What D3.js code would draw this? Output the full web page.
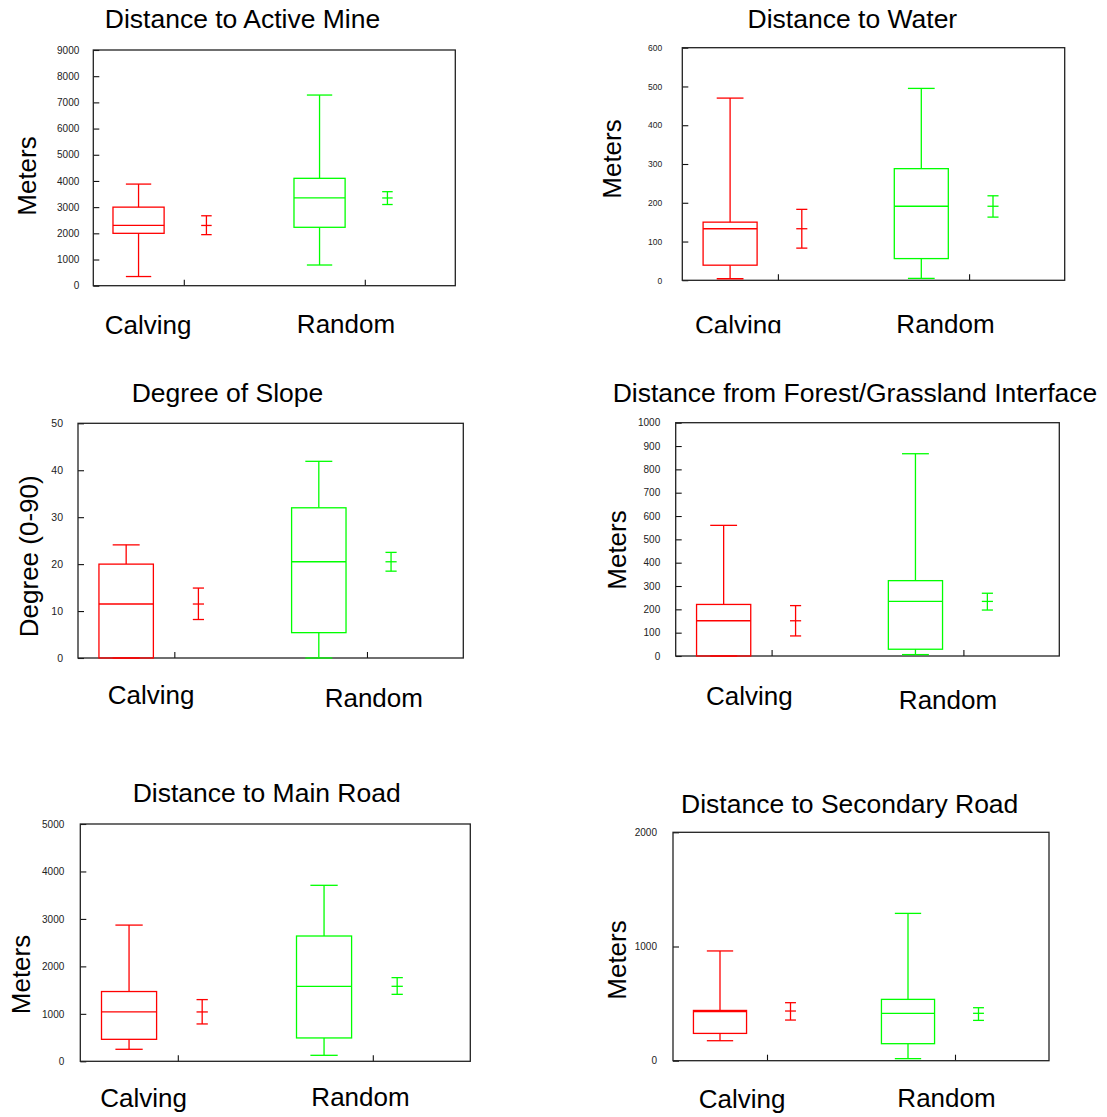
<!DOCTYPE html>
<html><head><meta charset="utf-8">
<script src="https://cdn.jsdelivr.net/npm/d3@7"></script>
<style>body{margin:0;background:#fff}svg{display:block}</style>
</head><body>
<svg id="c" width="1107" height="1117"></svg>
<script>
// ---------- DATA ----------
const panelTitles = ["Distance to Active Mine", "Distance to Water", "Degree of Slope",
  "Distance from Forest/Grassland Interface", "Distance to Main Road", "Distance to Secondary Road"];
const yAxisLabels = ["Meters", "Meters", "Degree (0-90)", "Meters", "Meters", "Meters"];
const categories = ["Calving", "Random"];
const yMax = [9000, 600, 50, 1000, 5000, 2000];
const yTickStep = [1000, 100, 10, 100, 1000, 1000];
// box plots: [lower whisker, Q1, median, Q3, upper whisker]
const calvingBox = [
  [350, 2000, 2300, 3000, 3880],
  [4, 39, 133, 150, 470],
  [0, 0, 11.5, 20.0, 24.1],
  [0, 0, 151, 221, 560],
  [253, 463, 1040, 1470, 2870],
  [175, 239, 430, 440, 961]
];
const randomBox = [
  [790, 2230, 3350, 4100, 7280],
  [5, 56, 191, 288, 495],
  [0, 5.4, 20.5, 32.0, 41.9],
  [6, 29, 234, 323, 867],
  [126, 492, 1580, 2640, 3708],
  [18, 149, 415, 537, 1290]
];
// mean with error bar: [lower, mean, upper]
const calvingMean = [
  [1950, 2300, 2670],
  [83, 133, 183],
  [8.2, 11.5, 14.9],
  [86, 151, 216],
  [787, 1040, 1300],
  [356, 435, 508]
];
const randomMean = [
  [3100, 3350, 3590],
  [163, 191, 218],
  [18.5, 20.5, 22.5],
  [197, 234, 269],
  [1411, 1580, 1763],
  [353, 415, 464]
];

// ---------- LAYOUT ----------
const layout = [
  {x0: 93.3, x1: 455.3, y0: 50, y1: 285.7, title: [242.5, 28.3], ylab: [36, 176], xlab: [[148, 334], [346, 332.5]], tickFs: 10, tickGap: 14, clip: null},
  {x0: 682.3, x1: 1064.7, y0: 47.7, y1: 280.3, title: [852.4, 28.3], ylab: [620.7, 159], xlab: [[738.3, 333.6], [945.5, 332.6]], tickFs: 8.5, tickGap: 20, clip: 333.3},
  {x0: 78, x1: 463.3, y0: 423.3, y1: 658, title: [227.5, 402.3], ylab: [37.8, 556.3], xlab: [[151.2, 704], [373.8, 706.7]], tickFs: 10.5, tickGap: 15, clip: null},
  {x0: 675.7, x1: 1059.3, y0: 422.7, y1: 656, title: [855, 402.3], ylab: [626, 550], xlab: [[749.3, 705.3], [948, 708.6]], tickFs: 10, tickGap: 15.5, clip: null},
  {x0: 80.3, x1: 470.3, y0: 824, y1: 1061.3, title: [266.7, 802.3], ylab: [30, 974.5], xlab: [[143.7, 1107], [360.5, 1106]], tickFs: 10, tickGap: 16, clip: null},
  {x0: 673, x1: 1049, y0: 832.3, y1: 1060.7, title: [849.7, 813.3], ylab: [626, 960], xlab: [[742, 1108], [946.5, 1106.5]], tickFs: 10, tickGap: 16, clip: null}
];
const FONT = "'Liberation Sans', Arial, Helvetica, sans-serif";
const colors = ["#ff0000", "#00ff00"];
const boxPos = [0.5, 2.5], meanPos = [1.25, 3.25];
const boxW = 0.565, capW = 0.28, meanCapW = 0.116;

const svg = d3.select("#c");
svg.append("rect").attr("width", 1107).attr("height", 1117).attr("fill", "#fff");
const defs = svg.append("defs");

layout.forEach((L, i) => {
  const g = svg.append("g");
  if (L.clip) {
    defs.append("clipPath").attr("id", "clip" + i)
      .append("rect").attr("x", 0).attr("y", 0).attr("width", 1107).attr("height", L.clip);
    g.attr("clip-path", `url(#clip${i})`);
  }
  const x = d3.scaleLinear().domain([0, 4]).range([L.x0, L.x1]);
  const y = d3.scaleLinear().domain([0, yMax[i]]).range([L.y1, L.y0]);

  // title
  g.append("text").attr("x", L.title[0]).attr("y", L.title[1])
    .attr("text-anchor", "middle").attr("font-family", FONT).attr("font-size", 26.5)
    .attr("fill", "#000").text(panelTitles[i]);
  // y label
  g.append("text").attr("transform", `translate(${L.ylab[0]},${L.ylab[1]}) rotate(-90)`)
    .attr("text-anchor", "middle").attr("font-family", FONT).attr("font-size", 26)
    .attr("fill", "#000").text(yAxisLabels[i]);
  // x category labels
  categories.forEach((c, k) => {
    g.append("text").attr("x", L.xlab[k][0]).attr("y", L.xlab[k][1])
      .attr("text-anchor", "middle").attr("font-family", FONT).attr("font-size", 26)
      .attr("fill", "#000").text(c);
  });

  // y axis
  const ticks = d3.range(0, yMax[i] + yTickStep[i] / 2, yTickStep[i]);
  const ya = g.append("g").attr("transform", `translate(${L.x0},0)`)
    .call(d3.axisLeft(y).tickValues(ticks).tickSizeInner(-6).tickSizeOuter(0)
      .tickPadding(L.tickGap).tickFormat(d3.format("d")));
  ya.select(".domain").remove();
  ya.selectAll("line").attr("stroke", "#111").attr("stroke-width", 1.1);
  ya.selectAll("text").attr("font-family", FONT).attr("font-size", L.tickFs).attr("fill", "#222");

  // x axis
  const xa = g.append("g").attr("transform", `translate(0,${L.y1})`)
    .call(d3.axisBottom(x).tickValues([1, 3]).tickSizeInner(-6).tickSizeOuter(0).tickFormat(""));
  xa.select(".domain").remove();
  xa.selectAll("line").attr("stroke", "#111").attr("stroke-width", 1.1);

  // frame
  g.append("rect").attr("x", L.x0).attr("y", L.y0)
    .attr("width", L.x1 - L.x0).attr("height", L.y1 - L.y0)
    .attr("fill", "none").attr("stroke", "#222").attr("stroke-width", 1.3);

  // boxes
  const boxes = [calvingBox[i], randomBox[i]];
  const means = [calvingMean[i], randomMean[i]];
  boxes.forEach((b, k) => {
    const col = colors[k];
    const cx = x(boxPos[k]);
    const bg = g.append("g").attr("stroke", col).attr("stroke-width", 1.3).attr("fill", "none");
    const [lw, q1, med, q3, uw] = b;
    bg.append("line").attr("x1", cx).attr("x2", cx).attr("y1", y(uw)).attr("y2", y(q3));
    bg.append("line").attr("x1", cx).attr("x2", cx).attr("y1", y(q1)).attr("y2", y(lw));
    [uw, lw].forEach(v => {
      bg.append("line").attr("x1", x(boxPos[k] - capW / 2)).attr("x2", x(boxPos[k] + capW / 2))
        .attr("y1", y(v)).attr("y2", y(v));
    });
    bg.append("rect").attr("x", x(boxPos[k] - boxW / 2)).attr("y", y(q3))
      .attr("width", x(boxPos[k] + boxW / 2) - x(boxPos[k] - boxW / 2))
      .attr("height", y(q1) - y(q3));
    bg.append("line").attr("x1", x(boxPos[k] - boxW / 2)).attr("x2", x(boxPos[k] + boxW / 2))
      .attr("y1", y(med)).attr("y2", y(med));

    // mean + error bar
    const m = means[k];
    const mx = x(meanPos[k]);
    const mg = g.append("g").attr("stroke", col).attr("stroke-width", 1.3);
    mg.append("line").attr("x1", mx).attr("x2", mx).attr("y1", y(m[2])).attr("y2", y(m[0]));
    m.forEach(v => {
      mg.append("line").attr("x1", x(meanPos[k] - meanCapW / 2)).attr("x2", x(meanPos[k] + meanCapW / 2))
        .attr("y1", y(v)).attr("y2", y(v));
    });
  });
});
</script>
</body></html>
